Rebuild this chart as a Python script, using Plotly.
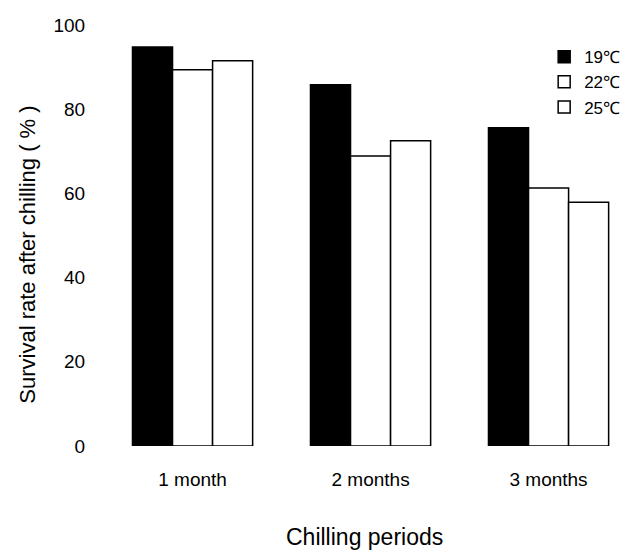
import plotly.graph_objects as go

categories = ["1 month", "2 months", "3 months"]
series_names = ["19℃", "22℃", "25℃"]
values_19 = [94.8, 85.8, 75.6]
values_22 = [89.4, 68.9, 61.3]
values_25 = [91.5, 72.5, 57.9]
y_ticks = [0, 20, 40, 60, 80, 100]

FONT = "Liberation Sans, Arial, Helvetica, sans-serif"

fig = go.Figure()
fills = ["black", "white", "white"]
for name, vals, fill in zip(series_names, [values_19, values_22, values_25], fills):
    fig.add_trace(go.Bar(
        x=[0, 1, 2], y=vals, name=name,
        marker=dict(color=fill, line=dict(color="black", width=1.5)),
    ))

fig.update_layout(
    width=624, height=545,
    margin=dict(l=92, r=7, t=12, b=107),
    paper_bgcolor="white", plot_bgcolor="white",
    barmode="group", bargap=0.325, bargroupgap=0,
    font=dict(family=FONT, color="black", size=19),
    showlegend=True,
    legend=dict(
        x=1.008, xanchor="right", y=0.955, yanchor="top",
        font=dict(family=FONT, size=17, color="black"),
        bgcolor="rgba(0,0,0,0)", itemwidth=30, tracegroupgap=0,
    ),
    xaxis=dict(
        range=[-0.52, 2.407],
        tickmode="array", tickvals=[0, 1, 2], ticktext=categories,
        showgrid=False, zeroline=False, showline=False,
        ticks="outside", ticklen=16, tickcolor="rgba(0,0,0,0)",
        tickfont=dict(size=19),
    ),
    yaxis=dict(
        range=[0, 101.2],
        tickmode="array", tickvals=y_ticks,
        showgrid=False, zeroline=False, showline=False,
        ticks="outside", ticklen=10, tickcolor="rgba(0,0,0,0)",
        tickfont=dict(size=19),
    ),
    annotations=[
        dict(text="Survival rate after chilling ( % )", xref="paper", yref="paper",
             x=-0.139, y=0.448, xanchor="center", yanchor="middle",
             textangle=-90, showarrow=False, font=dict(size=22)),
        dict(text="Chilling periods", xref="paper", yref="paper",
             x=0.507, y=-0.2136, xanchor="center", yanchor="middle",
             showarrow=False, font=dict(size=23)),
    ],
)

fig.write_html("out.html")
